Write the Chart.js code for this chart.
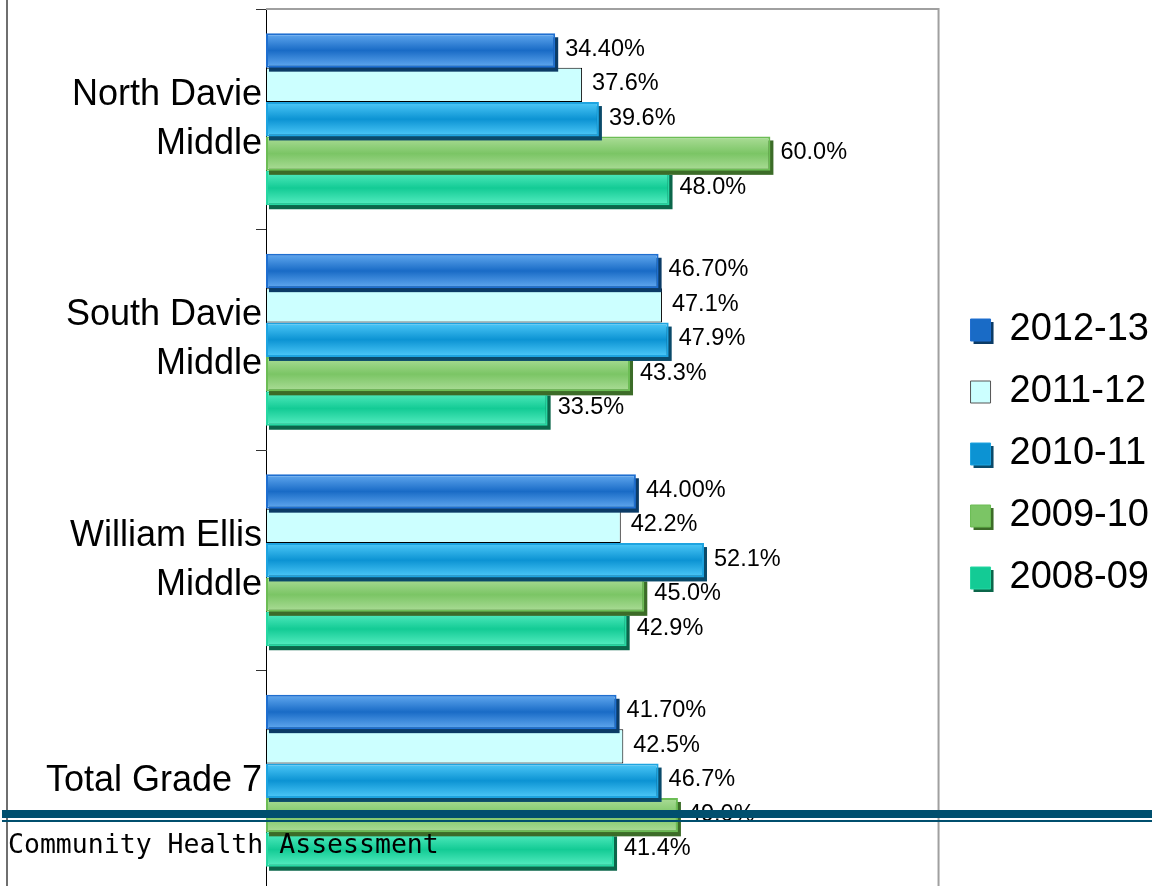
<!DOCTYPE html>
<html>
<head>
<meta charset="utf-8">
<title>Grade 7 by school</title>
<script src="https://cdn.jsdelivr.net/npm/chart.js@4.4.0/dist/chart.umd.min.js"></script>
<style>
  html, body { margin: 0; padding: 0; width: 1152px; height: 886px; overflow: hidden; background: #fff; }
  #wrap { position: relative; width: 1152px; height: 891px; }
  #edge { position: absolute; left: 6px; top: 0; width: 2px; height: 886px; background: #6f6f6f; }
  #rule1 { position: absolute; left: 2px; right: 0; top: 810px; height: 8px; background: #004f6e; }
  #rule2 { position: absolute; left: 2px; right: 0; top: 820px; height: 2px; background: #004f6e; }
  #footer { position: absolute; left: 8px; top: 831px; font: 26.5px 'DejaVu Sans Mono', monospace; line-height: 26px; color: #000; white-space: pre; }
</style>
</head>
<body>
<div id="wrap">
  <canvas id="grade-chart" width="1152" height="891"></canvas>
  <div id="edge"></div>
  <div id="rule1"></div>
  <div id="rule2"></div>
  <div id="footer">Community Health Assessment</div>
</div>
<script>
/*------------------------ DATA ---------------------------------*/

const schools = [['North Davie', 'Middle'], ['South Davie', 'Middle'], ['William Ellis', 'Middle'], 'Total Grade 7']
const years = ['2012-13', '2011-12', '2010-11', '2009-10', '2008-09']

const y2012 = [34.4, 46.7, 44.0, 41.7]
const y2011 = [37.6, 47.1, 42.2, 42.5]
const y2010 = [39.6, 47.9, 52.1, 46.7]
const y2009 = [60.0, 43.3, 45.0, 49.0]
const y2008 = [48.0, 33.5, 42.9, 41.4]

const xMax = 80

/*------------------------ LOOK ---------------------------------*/

const font = "'Liberation Sans', Arial, sans-serif"
const catPct = 0.78

// [edge, middle, border, shadow]
const looks = [
    ['#63aaf0', '#196bc6', '#1f6fd0', '#0b3b66'],
    ['#ccffff', '#ccffff', '#000000', null],
    ['#4fcaf9', '#0c93d3', '#1ea4e0', '#0a4a6a'],
    ['#acdd98', '#7bc565', '#6cbd55', '#3c6c28'],
    ['#58eec2', '#13cb95', '#27d7a2', '#0b664a']
]

function barFill(look) {
    return function (c) {
        const chart = c.chart
        const y = chart.scales.y
        if (!y || !chart.chartArea || look[0] === look[1]) return look[1]
        const band = (y.bottom - y.top) / schools.length
        const h = band * catPct / years.length
        const top = y.getPixelForValue(c.dataIndex) - band * catPct / 2 + h * c.datasetIndex
        const g = chart.ctx.createLinearGradient(0, top, 0, top + h)
        g.addColorStop(0, look[0])
        g.addColorStop(0.5, look[1])
        g.addColorStop(1, look[0])
        return g
    }
}

const series = [y2012, y2011, y2010, y2009, y2008]
const gradeData = {
    labels: schools,
    datasets: series.map((vals, i) => ({
        label: years[i],
        data: vals,
        backgroundColor: barFill(looks[i]),
        borderColor: looks[i][2],
        borderWidth: i === 1 ? 1 : 2,
        borderSkipped: false,
        categoryPercentage: catPct,
        barPercentage: 1
    }))
}

/*------------------------ PLUGINS ---------------------------------*/

// dark drop shadow under each bar, painted just before its dataset
const barShadow = {
    id: 'barShadow',
    beforeDatasetDraw(chart, args) {
        const col = looks[args.index][3]
        if (!col) return
        const ctx = chart.ctx
        ctx.save()
        ctx.fillStyle = col
        args.meta.data.forEach(bar => {
            const p = bar.getProps(['x', 'y', 'base', 'height'], true)
            const left = Math.min(p.x, p.base)
            ctx.fillRect(left + 3, p.y - p.height / 2 + 4, Math.abs(p.x - p.base), p.height)
        })
        ctx.restore()
    }
}

const valueLabels = {
    id: 'valueLabels',
    afterDatasetsDraw(chart) {
        const ctx = chart.ctx
        ctx.save()
        ctx.font = '23.5px ' + font
        ctx.fillStyle = '#000'
        ctx.textBaseline = 'middle'
        chart.data.datasets.forEach((ds, i) => {
            chart.getDatasetMeta(i).data.forEach((bar, j) => {
                const txt = ds.data[j].toFixed(i === 0 ? 2 : 1) + '%'
                ctx.fillText(txt, bar.x + 10, bar.y - 1)
            })
        })
        ctx.restore()
    }
}

// grey frame on top and right of the plot
const plotFrame = {
    id: 'plotFrame',
    beforeDatasetsDraw(chart) {
        const {ctx, chartArea: a} = chart
        ctx.save()
        ctx.strokeStyle = '#a0a0a0'
        ctx.lineWidth = 2
        ctx.beginPath()
        ctx.moveTo(a.left, a.top)
        ctx.lineTo(a.right, a.top)
        ctx.lineTo(a.right, chart.height)
        ctx.stroke()
        ctx.restore()
    }
}

// nudge the legend and give its boxes a shadow
const legendTweak = {
    id: 'legendTweak',
    afterLayout(chart) {
        chart.legend.left += 8
        chart.legend.right += 8
        chart.legend.top += 4
        chart.legend.bottom += 4
    },
    beforeDraw(chart) {
        const ctx = chart.ctx
        ctx.save()
        chart.legend.legendHitBoxes.forEach((hb, i) => {
            const col = looks[i][3]
            if (!col) return
            ctx.fillStyle = col
            ctx.fillRect(hb.left + 3, hb.top + 8 + 3, 20, 22)
        })
        ctx.restore()
    }
}

/*------------------------ CHART ---------------------------------*/

const gradeCanvas = document.querySelector('#grade-chart').getContext('2d')

const gradeOptions = {
    type: 'bar',
    data: gradeData,
    plugins: [barShadow, valueLabels, plotFrame, legendTweak],
    options: {
        indexAxis: 'y',
        responsive: false,
        animation: false,
        layout: {
            padding: {top: 9, right: 1, bottom: 0, left: 0}
        },
        scales: {
            x: {
                display: false,
                min: 0,
                max: xMax
            },
            y: {
                afterFit(scale) {
                    scale.width = 266
                    scale.paddingTop = 0
                    scale.paddingBottom = 0
                },
                grid: {
                    drawOnChartArea: false,
                    drawTicks: true,
                    tickLength: 10,
                    color: '#333'
                },
                border: {display: true, color: '#000', width: 1},
                ticks: {
                    color: '#000',
                    padding: -6,
                    font: {family: font, size: 36, lineHeight: 1.36}
                }
            }
        },
        plugins: {
            tooltip: {enabled: false},
            legend: {
                position: 'right',
                labels: {
                    boxWidth: 20,
                    boxHeight: 22,
                    padding: 24,
                    color: '#000',
                    font: {family: font, size: 38},
                    generateLabels(chart) {
                        return chart.data.datasets.map((ds, i) => ({
                            text: ds.label,
                            fillStyle: looks[i][1],
                            strokeStyle: i === 1 ? '#555' : looks[i][2],
                            lineWidth: 1,
                            hidden: false,
                            datasetIndex: i
                        }))
                    }
                }
            }
        }
    }
}

const gradeChart = new Chart(gradeCanvas, gradeOptions)
</script>
</body>
</html>
